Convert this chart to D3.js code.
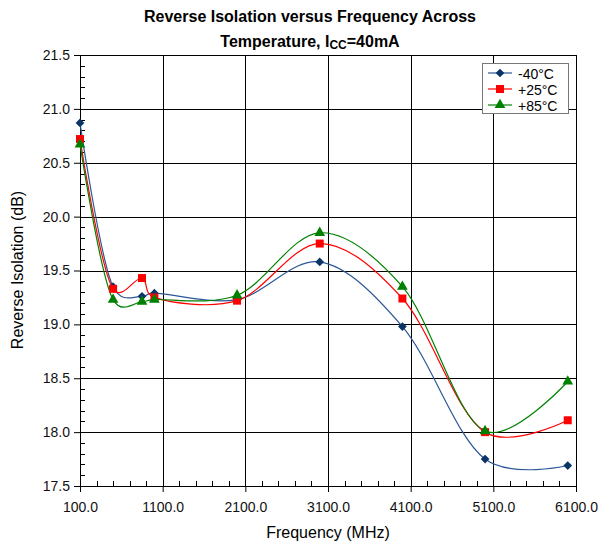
<!DOCTYPE html>
<html>
<head>
<meta charset="utf-8">
<script src="https://cdn.jsdelivr.net/npm/d3@7"></script>
<style>
  body { margin: 0; background: #fff; }
  svg text { font-family: "Liberation Sans", Arial, sans-serif; }
</style>
</head>
<body>
<div id="chart"></div>
<script>
'use strict';

const freqs = [100, 500, 850, 1000, 2000, 3000, 4000, 5000, 6000]
const minus40 = [20.87, 19.35, 19.26, 19.29, 19.23, 19.58, 18.98, 17.75, 17.69]
const plus25 = [20.72, 19.33, 19.43, 19.25, 19.22, 19.75, 19.24, 18.00, 18.11]
const plus85 = [20.67, 19.23, 19.21, 19.23, 19.27, 19.85, 19.35, 18.01, 18.47]
const xTicks = [100, 1100, 2100, 3100, 4100, 5100, 6100]
const yTicks = [17.5, 18.0, 18.5, 19.0, 19.5, 20.0, 20.5, 21.0, 21.5]

const series = [
    { name: '-40°C', values: minus40, line: '#2b5797', mark: '#0a3366', shape: d3.symbolSquare, size: 38, rot: 45 },
    { name: '+25°C', values: plus25, line: '#ff0000', mark: '#ff0000', shape: d3.symbolSquare, size: 64, rot: 0 },
    { name: '+85°C', values: plus85, line: '#008000', mark: '#008000', shape: d3.symbolTriangle, size: 50, rot: 0 }
]

let margin = { top: 55, right: 24, bottom: 59, left: 80 },
    width = 600 - margin.left - margin.right,
    height = 545 - margin.top - margin.bottom;

let root = d3.select('#chart')
    .append('svg')
    .attr('width', 600)
    .attr('height', 545)

root.append('text')
    .attr('x', 310).attr('y', 22)
    .attr('text-anchor', 'middle')
    .style('font-size', '16px').style('font-weight', 'bold')
    .text('Reverse Isolation versus Frequency Across')

let t2 = root.append('text')
    .attr('x', 310).attr('y', 47)
    .attr('text-anchor', 'middle')
    .style('font-size', '16px').style('font-weight', 'bold')
t2.append('tspan').text('Temperature, I')
t2.append('tspan').style('font-size', '12px').attr('dy', 2).text('CC')
t2.append('tspan').attr('dy', -2).text('=40mA')

let svg = root.append('g')
    .attr('transform', `translate(${margin.left}, ${margin.top})`)

let xScale = d3.scaleLinear().domain([100, 6100]).range([0, width])
let yScale = d3.scaleLinear().domain([17.5, 21.5]).range([height, 0])

// grid
svg.append('g')
    .selectAll('line')
    .data(xTicks)
    .join('line')
    .attr('x1', d => Math.round(xScale(d)) + 0.5).attr('x2', d => Math.round(xScale(d)) + 0.5)
    .attr('y1', 0).attr('y2', height)
    .attr('stroke', '#000')
svg.append('g')
    .selectAll('line')
    .data(yTicks)
    .join('line')
    .attr('y1', d => Math.round(yScale(d)) + 0.5).attr('y2', d => Math.round(yScale(d)) + 0.5)
    .attr('x1', 0).attr('x2', width)
    .attr('stroke', '#000')

// minor ticks
let xMinor = d3.range(100, 6101, 200)
svg.append('g')
    .selectAll('line')
    .data(xMinor)
    .join('line')
    .attr('x1', d => Math.round(xScale(d)) + 0.5).attr('x2', d => Math.round(xScale(d)) + 0.5)
    .attr('y1', height).attr('y2', height - 5)
    .attr('stroke', '#000')
let yMinor = d3.range(175, 216, 1).map(d => d / 10)
svg.append('g')
    .selectAll('line')
    .data(yMinor)
    .join('line')
    .attr('y1', d => Math.round(yScale(d)) + 0.5).attr('y2', d => Math.round(yScale(d)) + 0.5)
    .attr('x1', 0).attr('x2', 5)
    .attr('stroke', '#000')

// axes
svg.append('g')
    .attr('transform', `translate(0, ${height})`)
    .call(d3.axisBottom(xScale).tickValues(xTicks).tickSize(6).tickPadding(10).tickFormat(d3.format('.1f')))
svg.append('g')
    .call(d3.axisLeft(yScale).tickValues(yTicks).tickSize(6).tickPadding(4).tickFormat(d3.format('.1f')))
svg.selectAll('.domain').attr('stroke', '#000')
svg.selectAll('.tick text').style('font-size', '14px').attr('fill', '#111')

svg.append('rect')
    .attr('x', 0.5).attr('y', 0.5)
    .attr('width', width).attr('height', height)
    .attr('fill', 'none').attr('stroke', '#000')

root.append('text')
    .attr('x', 328).attr('y', 538)
    .attr('text-anchor', 'middle')
    .style('font-size', '16px')
    .text('Frequency (MHz)')
root.append('text')
    .attr('transform', 'translate(23, 270) rotate(-90)')
    .attr('text-anchor', 'middle')
    .style('font-size', '16px')
    .text('Reverse Isolation (dB)')

// series
let line = d3.line()
    .x((d, i) => xScale(freqs[i]))
    .y(d => yScale(d))
    .curve(d3.curveCatmullRom.alpha(0.2))

series.forEach(s => {
    svg.append('path')
        .datum(s.values)
        .attr('fill', 'none')
        .attr('stroke', s.line)
        .attr('stroke-width', 1.2)
        .attr('d', line)
})
series.forEach(s => {
    svg.append('g')
        .selectAll('path')
        .data(s.values)
        .join('path')
        .attr('transform', (d, i) => `translate(${xScale(freqs[i])}, ${yScale(d)}) rotate(${s.rot})`)
        .attr('d', d3.symbol().type(s.shape).size(s.size))
        .attr('fill', s.mark)
})

// legend
let legend = root.append('g').attr('transform', 'translate(482, 63)')
legend.append('rect')
    .attr('x', 0.5).attr('y', 0.5)
    .attr('width', 86).attr('height', 50)
    .attr('fill', '#fff').attr('stroke', '#777')
series.forEach((s, i) => {
    let row = legend.append('g').attr('transform', `translate(0, ${10 + i * 16})`)
    row.append('line')
        .attr('x1', 6).attr('x2', 30)
        .attr('stroke', s.line).attr('stroke-width', 1.2)
    row.append('path')
        .attr('transform', `translate(18, 0) rotate(${s.rot})`)
        .attr('d', d3.symbol().type(s.shape).size(s.size))
        .attr('fill', s.mark)
    row.append('text')
        .attr('x', 36).attr('y', 5.5)
        .style('font-size', '14px')
        .text(s.name)
})
</script>
</body>
</html>
